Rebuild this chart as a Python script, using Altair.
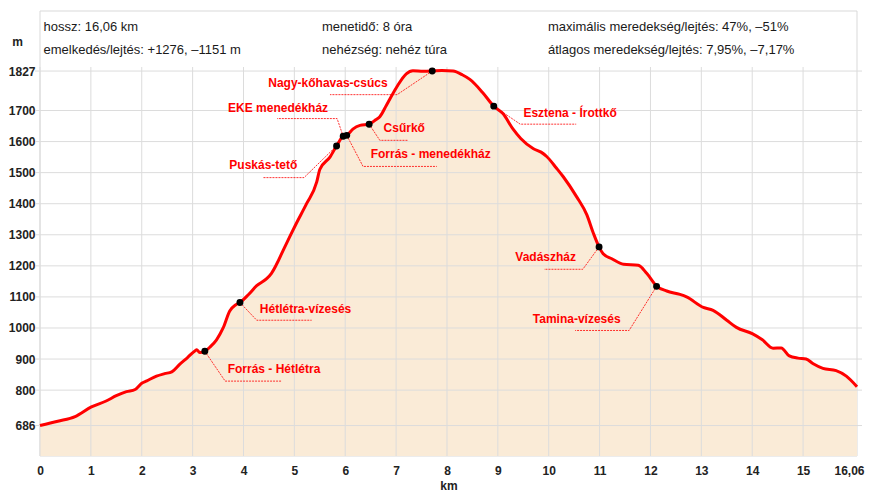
import altair as alt
import pandas as pd

# ---- profile data (km, elevation m) ----
km = [0.00, 0.35, 0.69, 1.01, 1.30, 1.50, 1.70, 1.87, 2.00, 2.10, 2.29, 2.45, 2.59, 2.75, 2.90,
      3.05, 3.08, 3.14, 3.24, 3.35, 3.47, 3.60, 3.73, 3.85, 3.93, 4.10, 4.26, 4.45, 4.55, 4.65,
      4.78, 4.91, 5.04, 5.24, 5.44, 5.50, 5.70, 5.83, 5.96, 6.03, 6.15, 6.29, 6.47, 6.60, 6.68,
      6.81, 7.01, 7.20, 7.33, 7.53, 7.71, 7.90, 8.12, 8.30, 8.45, 8.70, 8.92, 9.10, 9.30, 9.45,
      9.70, 9.85, 9.96, 10.15, 10.29, 10.55, 10.75, 10.88, 10.99, 11.07, 11.24, 11.47, 11.76,
      11.93, 12.12, 12.32, 12.58, 12.71, 13.04, 13.23, 13.50, 13.69, 14.01, 14.20, 14.41, 14.57,
      14.73, 14.90, 15.06, 15.20, 15.39, 15.65, 15.85, 16.06]
elev = [686, 700, 715, 746, 765, 782, 795, 802, 822, 830, 845, 853, 859, 884, 905,
        927, 930, 921, 925, 940, 962, 1000, 1055, 1075, 1082, 1108, 1136, 1158, 1176, 1205,
        1250, 1294, 1337, 1400, 1470, 1510, 1550, 1586, 1617, 1620, 1640, 1652, 1656, 1670, 1680,
        1717, 1775, 1818, 1828, 1826, 1827, 1829, 1827, 1815, 1800, 1758, 1714, 1690, 1640, 1610,
        1577, 1566, 1552, 1515, 1486, 1422, 1364, 1304, 1261, 1239, 1223, 1205, 1202,
        1175, 1135, 1119, 1108, 1100, 1066, 1057, 1025, 1002, 981, 962, 935, 936,
        910, 903, 900, 885, 870, 863, 845, 811]

# ---- points of interest ----
poi_names = ["Forrás - Hétlétra", "Hétlétra-vízesés", "Puskás-tető", "EKE menedékház",
             "Forrás - menedékház", "Csűrkő", "Nagy-kőhavas-csúcs", "Esztena - Írottkő",
             "Vadászház", "Tamina-vízesés"]
poi_km = [3.24, 3.93, 5.83, 5.96, 6.03, 6.47, 7.71, 8.92, 10.99, 12.12]
poi_elev = [925, 1082, 1586, 1617, 1620, 1656, 1827, 1714, 1261, 1134]
# label centre positions (km, m)
lab_km = [4.60, 5.22, 4.39, 4.68, 7.68, 7.16, 5.66, 10.42, 9.94, 10.55]
lab_elev = [867, 1060, 1524, 1709, 1559, 1644, 1788, 1693, 1228, 1030]
# leader line: elbow point and end point
elb_km = [3.64, 4.26, 5.19, 5.84, 6.35, 6.68, 7.02, 9.44, 10.67, 11.58]
elb_elev = [829, 1025, 1484, 1674, 1520, 1604, 1751, 1656, 1189, 992]
end_km = [4.74, 5.34, 4.38, 4.66, 7.80, 7.23, 5.70, 10.54, 9.91, 10.52]

# ---- axes ----
x_ticks = [0, 1, 2, 3, 4, 5, 6, 7, 8, 9, 10, 11, 12, 13, 14, 15, 16.06]
x_grid = [0, 1, 2, 3, 4, 5, 6, 7, 8, 9, 10, 11, 12, 13, 14, 15]
y_ticks = [686, 800, 900, 1000, 1100, 1200, 1300, 1400, 1500, 1600, 1700, 1827]
y_domain = [588, 1840]
x_domain = [0, 16.06]

header = [
    ("hossz: 16,06 km", 0, 0), ("emelkedés/lejtés: +1276, –1151 m", 0, 1),
    ("menetidő: 8 óra", 1, 0), ("nehézség: nehéz túra", 1, 1),
    ("maximális meredekség/lejtés: 47%, –51%", 2, 0), ("átlagos meredekség/lejtés: 7,95%, –7,17%", 2, 1),
]

W, H = 817, 389
FONT = "Liberation Sans"
RED = "#ff0000"

prof = pd.DataFrame({"km": km, "elev": elev})
poi = pd.DataFrame({"name": poi_names, "km": poi_km, "elev": poi_elev,
                    "lkm": lab_km, "lelev": lab_elev})
lead_rows = []
for i, n in enumerate(poi_names):
    lead_rows.append({"name": n, "o": 0, "km": poi_km[i], "elev": poi_elev[i]})
    lead_rows.append({"name": n, "o": 1, "km": elb_km[i], "elev": elb_elev[i]})
    lead_rows.append({"name": n, "o": 2, "km": end_km[i], "elev": elb_elev[i]})
lead = pd.DataFrame(lead_rows)

xs = alt.Scale(domain=x_domain, nice=False, zero=False)
ys = alt.Scale(domain=y_domain, nice=False, zero=False)

x_axis = alt.Axis(values=x_ticks, grid=False, ticks=False, domain=False, labelOverlap=False,
                  labelExpr="datum.value == 16.06 ? '16,06' : format(datum.value, 'd')",
                  labelOffset={"condition": {"test": "datum.value == 16.06", "value": -8}, "value": 0},
                  labelFont=FONT, labelFontSize=12, labelFontWeight="bold", labelColor="#222",
                  labelPadding=9, title="km", titleFont=FONT, titleFontSize=12,
                  titleFontWeight="bold", titleColor="#222", titlePadding=4, labelFlush=False,
                  labelBound=False)
y_axis = alt.Axis(values=y_ticks, grid=False, ticks=False, domain=False, labelOverlap=False,
                  format="d", labelFlush=False, labelBound=False,
                  labelFont=FONT, labelFontSize=12, labelFontWeight="bold", labelColor="#222",
                  labelPadding=5, title="m", titleAngle=0, titleX=-23, titleY=-26,
                  titleAlign="center", titleBaseline="middle", titleFont=FONT,
                  titleFontSize=12, titleFontWeight="bold", titleColor="#222")

X = lambda f: alt.X(f, scale=xs, axis=x_axis)
Y = lambda f: alt.Y(f, scale=ys, axis=y_axis)

frame = alt.Chart(pd.DataFrame({"a": [0]})).mark_rect(
    fill="white", stroke="#d9d9d9", strokeWidth=1).encode(
    x=alt.value(0), x2=alt.value(W), y=alt.value(-56), y2=alt.value(H))

area = alt.Chart(prof).mark_area(color="#faebd7", opacity=1).encode(
    x=X("km:Q"), y=Y("elev:Q"), y2=alt.datum(y_domain[0]))

vgrid = alt.Chart(pd.DataFrame({"g": x_grid})).mark_rule(color="#dcdcdc", strokeWidth=1).encode(
    x=X("g:Q"), y=alt.value(0), y2=alt.value(H))
hgrid = alt.Chart(pd.DataFrame({"g": y_ticks})).mark_rule(color="#dcdcdc", strokeWidth=1).encode(
    y=Y("g:Q"), x=alt.value(-5), x2=alt.value(W + 5))

line = alt.Chart(prof).mark_line(color=RED, strokeWidth=3, interpolate="monotone").encode(
    x=X("km:Q"), y=Y("elev:Q"))

leaders = alt.Chart(lead).mark_line(color=RED, strokeWidth=1, strokeDash=[2, 1], opacity=0.8).encode(
    x=X("km:Q"), y=Y("elev:Q"), detail="name:N", order="o:Q")

dots = alt.Chart(poi).mark_circle(color="black", size=48, opacity=1).encode(
    x=X("km:Q"), y=Y("elev:Q"))

labels = alt.Chart(poi).mark_text(color=RED, font=FONT, fontSize=12, fontWeight="bold",
                                  align="center", baseline="middle").encode(
    x=X("lkm:Q"), y=Y("lelev:Q"), text="name:N")

col_x = [3.5, 282, 508]
row_y = [-40, -17]
head_layers = []
for t, c, r in header:
    head_layers.append(
        alt.Chart(pd.DataFrame({"t": [t]})).mark_text(
            font=FONT, fontSize=13, color="#1a1a1a", align="left", baseline="middle").encode(
            x=alt.value(col_x[c]), y=alt.value(row_y[r]), text="t:N"))

chart = alt.layer(frame, area, vgrid, hgrid, line, leaders, dots, labels, *head_layers).properties(
    width=W, height=H,
    padding={"left": 32, "top": 59, "right": 9, "bottom": 35},
    autosize=alt.AutoSizeParams(type="none"),
    background="white",
).configure_view(stroke=None)

chart.save("out.html", embed_options={"renderer": "svg", "actions": False})
